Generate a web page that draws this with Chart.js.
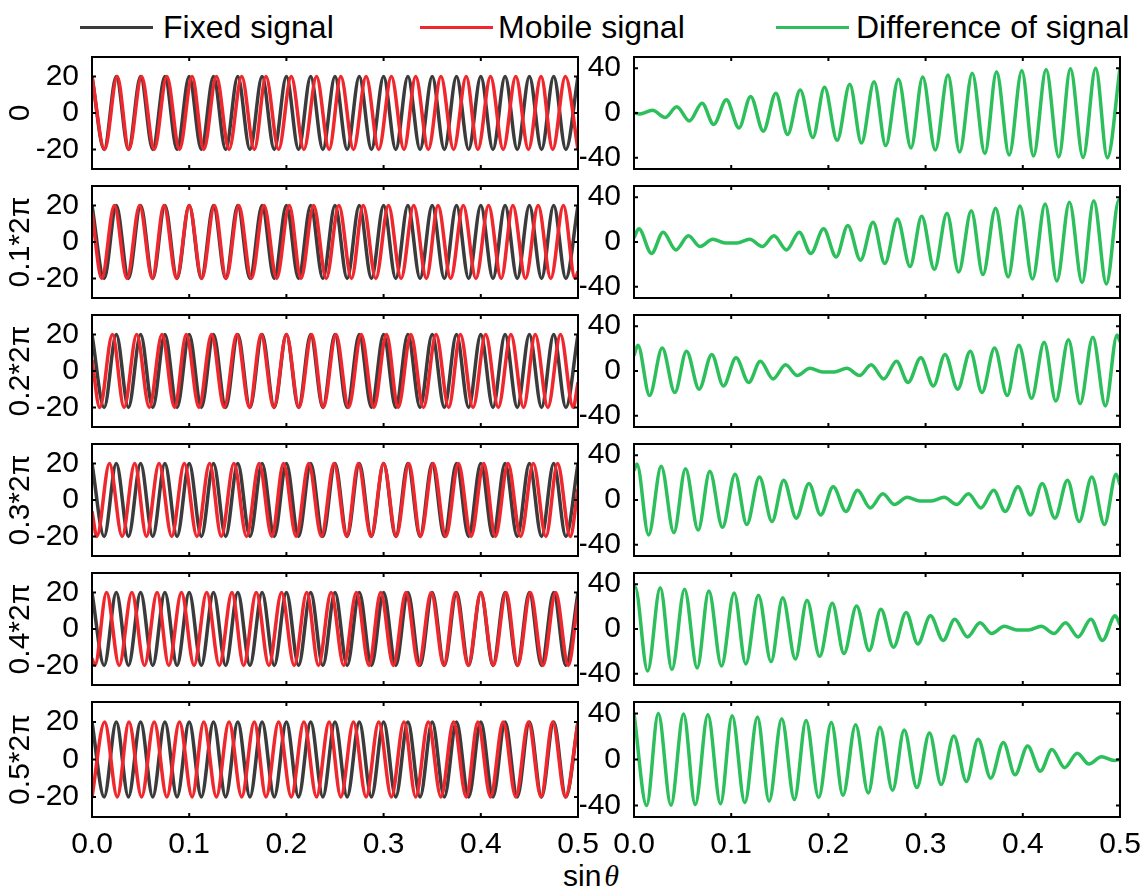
<!DOCTYPE html>
<html>
<head>
<meta charset="utf-8">
<script src="https://cdn.jsdelivr.net/npm/chart.js@4.4.1/dist/chart.umd.min.js"></script>
<style>
  html, body { margin: 0; background: #fff; overflow: hidden; }
  #wrap { position: relative; width: 1148px; height: 896px; overflow: hidden;
          font-family: 'Liberation Sans', Arial, sans-serif; color: #000; }
  canvas { position: absolute; }
  .swatch { position: absolute; top: 26px; width: 73px; height: 3px; }
  .key { position: absolute; top: 8px; line-height: 38px; font-size: 32px; white-space: nowrap; }
  .xtitle { position: absolute; left: 563px; top: 859px; line-height: 34px; font-size: 30px; white-space: nowrap; }
  .xtitle i { font-family: 'Liberation Serif', serif; margin-left: 3px; }
</style>
</head>
<body>
<div id="wrap">
  <div class="swatch" id="swFixed" style="left:80px"></div>
  <div class="key" style="left:163px">Fixed signal</div>
  <div class="swatch" id="swMobile" style="left:420px"></div>
  <div class="key" style="left:498px">Mobile signal</div>
  <div class="swatch" id="swDiff" style="left:776px"></div>
  <div class="key" style="left:856px">Difference of signal</div>
  <div class="xtitle">sin<i>θ</i></div>
</div>
<script>
// axis ticks and row labels
const xTicks = [0, 0.1, 0.2, 0.3, 0.4, 0.5];
const leftYTicks = [-20, 0, 20];
const rightYTicks = [-40, 0, 40];
const phaseLabels = ['0', '0.1*2π', '0.2*2π', '0.3*2π', '0.4*2π', '0.5*2π'];

// fixed signal, same in every row (peaks and troughs)
const fixedX = [0, 0.0125, 0.025, 0.0375, 0.05, 0.0625, 0.075, 0.0875, 0.1, 0.1125, 0.125, 0.1375, 0.15, 0.1625,
  0.175, 0.1875, 0.2, 0.2125, 0.225, 0.2375, 0.25, 0.2625, 0.275, 0.2875, 0.3, 0.3125, 0.325, 0.3375, 0.35,
  0.3625, 0.375, 0.3875, 0.4, 0.4125, 0.425, 0.4375, 0.45, 0.4625, 0.475, 0.4875, 0.5];
const fixedY = [20,-20,20,-20,20,-20,20,-20,20,-20,20,-20,20,-20,20,-20,20,-20,20,-20,20,-20,20,-20,20,-20,20,-20,
  20,-20,20,-20,20,-20,20,-20,20,-20,20,-20,20];

// mobile signal, one list per row
const mobileX = [
  [0, .013, .026, .038, .051, .064, .077, .090, .103, .115, .128, .141, .154, .167, .179, .192, .205, .218, .231, .244,
   .256, .269, .282, .295, .308, .321, .333, .346, .359, .372, .385, .397, .410, .423, .436, .449, .462, .474, .487, .5],
  [0, .010, .023, .036, .049, .062, .074, .087, .100, .113, .126, .138, .151, .164, .177, .190, .203, .215, .228, .241,
   .254, .267, .279, .292, .305, .318, .331, .344, .356, .369, .382, .395, .408, .421, .433, .446, .459, .472, .485, .497, .5],
  [0, .008, .021, .033, .046, .059, .072, .085, .097, .110, .123, .136, .149, .162, .174, .187, .200, .213, .226, .238,
   .251, .264, .277, .290, .303, .315, .328, .341, .354, .367, .379, .392, .405, .418, .431, .444, .456, .469, .482, .495, .5],
  [0, .005, .018, .031, .044, .056, .069, .082, .095, .108, .121, .133, .146, .159, .172, .185, .197, .210, .223, .236,
   .249, .262, .274, .287, .300, .313, .326, .338, .351, .364, .377, .390, .403, .415, .428, .441, .454, .467, .479, .492, .5],
  [0, .003, .015, .028, .041, .054, .067, .079, .092, .105, .118, .131, .144, .156, .169, .182, .195, .208, .221, .233,
   .246, .259, .272, .285, .297, .310, .323, .336, .349, .362, .374, .387, .400, .413, .426, .438, .451, .464, .477, .490, .5],
  [0, .013, .026, .038, .051, .064, .077, .090, .103, .115, .128, .141, .154, .167, .179, .192, .205, .218, .231, .244,
   .256, .269, .282, .295, .308, .321, .333, .346, .359, .372, .385, .397, .410, .423, .436, .449, .462, .474, .487, .5]
];
const mobileY = [
  [20,-20,20,-20,20,-20,20,-20,20,-20,20,-20,20,-20,20,-20,20,-20,20,-20,20,-20,20,-20,20,-20,20,-20,20,-20,20,-20,20,-20,20,-20,20,-20,20,-20],
  [16.2,-20,20,-20,20,-20,20,-20,20,-20,20,-20,20,-20,20,-20,20,-20,20,-20,20,-20,20,-20,20,-20,20,-20,20,-20,20,-20,20,-20,20,-20,20,-20,20,-20,-16.2],
  [6.2,-20,20,-20,20,-20,20,-20,20,-20,20,-20,20,-20,20,-20,20,-20,20,-20,20,-20,20,-20,20,-20,20,-20,20,-20,20,-20,20,-20,20,-20,20,-20,20,-20,-6.2],
  [-6.2,-20,20,-20,20,-20,20,-20,20,-20,20,-20,20,-20,20,-20,20,-20,20,-20,20,-20,20,-20,20,-20,20,-20,20,-20,20,-20,20,-20,20,-20,20,-20,20,-20,6.2],
  [-16.2,-20,20,-20,20,-20,20,-20,20,-20,20,-20,20,-20,20,-20,20,-20,20,-20,20,-20,20,-20,20,-20,20,-20,20,-20,20,-20,20,-20,20,-20,20,-20,20,-20,16.2],
  [-20,20,-20,20,-20,20,-20,20,-20,20,-20,20,-20,20,-20,20,-20,20,-20,20,-20,20,-20,20,-20,20,-20,20,-20,20,-20,20,-20,20,-20,20,-20,20,-20,20]
];

// difference of signal, one list per row
const diffX = [
  [0, .006, .019, .032, .044, .057, .070, .082, .095, .108, .120, .133, .146, .158, .171, .184, .196, .209, .222, .234,
   .247, .259, .272, .285, .297, .310, .323, .335, .348, .361, .373, .386, .399, .411, .424, .437, .449, .462, .475, .487, .5],
  [0, .005, .018, .030, .043, .056, .068, .081, .094, .106, .119, .132, .144, .157, .170, .182, .195, .208, .220, .233,
   .246, .258, .271, .284, .296, .309, .322, .334, .347, .359, .372, .385, .397, .410, .423, .435, .448, .461, .473, .486, .499, .5],
  [0, .004, .016, .029, .042, .054, .067, .080, .092, .105, .118, .130, .143, .156, .168, .181, .194, .206, .219, .232,
   .244, .257, .270, .282, .295, .308, .320, .333, .346, .358, .371, .384, .396, .409, .422, .434, .447, .459, .472, .485, .497, .5],
  [0, .003, .015, .028, .041, .053, .066, .078, .091, .104, .116, .129, .142, .154, .167, .180, .192, .205, .218, .230,
   .243, .256, .268, .281, .294, .306, .319, .332, .344, .357, .370, .382, .395, .408, .420, .433, .446, .458, .471, .484, .496, .5],
  [0, .001, .014, .027, .039, .052, .065, .077, .090, .103, .115, .128, .141, .153, .166, .178, .191, .204, .216, .229,
   .242, .254, .267, .280, .292, .305, .318, .330, .343, .356, .368, .381, .394, .406, .419, .432, .444, .457, .470, .482, .495, .5],
  [0, .013, .025, .038, .051, .063, .076, .089, .101, .114, .127, .139, .152, .165, .177, .190, .203, .215, .228, .241,
   .253, .266, .278, .291, .304, .316, .329, .342, .354, .367, .380, .392, .405, .418, .430, .443, .456, .468, .481, .494, .5]
];
const diffY = [
  [0, -0.8, 2.4, -4.0, 5.5, -7.1, 8.7, -10.2, 11.8, -13.3, 14.8, -16.2, 17.7, -19.1, 20.5, -21.8, 23.1, -24.4, 25.6, -26.8,
   28.0, -29.1, 30.2, -31.2, 32.2, -33.1, 34.0, -34.8, 35.5, -36.2, 36.9, -37.5, 38.0, -38.5, 38.9, -39.2, 39.5, -39.7, 39.9, -40.0, 40.0],
  [3.8, 11.8, -10.2, 8.7, -7.1, 5.5, -4.0, 2.4, -0.8, -0.8, 2.4, -4.0, 5.5, -7.1, 8.7, -10.2, 11.8, -13.3, 14.8, -16.2,
   17.7, -19.1, 20.5, -21.8, 23.1, -24.4, 25.6, -26.8, 28.0, -29.1, 30.2, -31.2, 32.2, -33.1, 34.0, -34.8, 35.5, -36.2, 36.9, -37.5, 38.0, 36.2],
  [13.8, 23.1, -21.8, 20.5, -19.1, 17.7, -16.2, 14.8, -13.3, 11.8, -10.2, 8.7, -7.1, 5.5, -4.0, 2.4, -0.8, -0.8, 2.4, -4.0,
   5.5, -7.1, 8.7, -10.2, 11.8, -13.3, 14.8, -16.2, 17.7, -19.1, 20.5, -21.8, 23.1, -24.4, 25.6, -26.8, 28.0, -29.1, 30.2, -31.2, 32.2, 26.2],
  [26.2, 32.2, -31.2, 30.2, -29.1, 28.0, -26.8, 25.6, -24.4, 23.1, -21.8, 20.5, -19.1, 17.7, -16.2, 14.8, -13.3, 11.8, -10.2, 8.7,
   -7.1, 5.5, -4.0, 2.4, -0.8, -0.8, 2.4, -4.0, 5.5, -7.1, 8.7, -10.2, 11.8, -13.3, 14.8, -16.2, 17.7, -19.1, 20.5, -21.8, 23.1, 13.8],
  [36.2, 38.0, -37.5, 36.9, -36.2, 35.5, -34.8, 34.0, -33.1, 32.2, -31.2, 30.2, -29.1, 28.0, -26.8, 25.6, -24.4, 23.1, -21.8, 20.5,
   -19.1, 17.7, -16.2, 14.8, -13.3, 11.8, -10.2, 8.7, -7.1, 5.5, -4.0, 2.4, -0.8, -0.8, 2.4, -4.0, 5.5, -7.1, 8.7, -10.2, 11.8, 3.8],
  [40.0, -40.0, 39.9, -39.7, 39.5, -39.2, 38.9, -38.5, 38.0, -37.5, 36.9, -36.2, 35.5, -34.8, 34.0, -33.1, 32.2, -31.2, 30.2, -29.1,
   28.0, -26.8, 25.6, -24.4, 23.1, -21.8, 20.5, -19.1, 17.7, -16.2, 14.8, -13.3, 11.8, -10.2, 8.7, -7.1, 5.5, -4.0, 2.4, -0.8, 0]
];

const colFixed = '#3b3b3b';
const colMobile = '#f0272c';
const colDiff = '#2dbf5c';

document.getElementById('swFixed').style.background = colFixed;
document.getElementById('swMobile').style.background = colMobile;
document.getElementById('swDiff').style.background = colDiff;

Chart.defaults.font.family = "'Liberation Sans', Arial, sans-serif";
Chart.defaults.color = '#000';

// layout of the panels
const plotTops = [54, 183, 312, 441, 570, 699];
const plotH = 118, plotW = 486;

// box round each panel with short ticks pointing inwards
const framePlugin = {
  id: 'frame',
  afterDatasetsDraw(chart) {
    const { ctx, chartArea: a, scales } = chart;
    ctx.save();
    ctx.strokeStyle = '#000';
    ctx.lineWidth = 2;
    ctx.strokeRect(a.left, a.top, a.width, a.height);
    ctx.beginPath();
    scales.x.ticks.forEach(t => {
      const px = scales.x.getPixelForValue(t.value);
      ctx.moveTo(px, a.top); ctx.lineTo(px, a.top + 4);
      ctx.moveTo(px, a.bottom); ctx.lineTo(px, a.bottom - 4);
    });
    scales.y.ticks.forEach(t => {
      const py = scales.y.getPixelForValue(t.value);
      ctx.moveTo(a.left, py); ctx.lineTo(a.left + 4, py);
      ctx.moveTo(a.right, py); ctx.lineTo(a.right - 4, py);
    });
    ctx.stroke();
    ctx.restore();
  }
};

function line(xs, ys, color) {
  return {
    data: xs.map((x, i) => ({ x: x, y: ys[i] })),
    borderColor: color,
    borderWidth: 3.5,
    pointRadius: 0,
    cubicInterpolationMode: 'monotone',
    borderJoinStyle: 'round'
  };
}

function panel(row, col) {
  const wrap = document.getElementById('wrap');
  const last = row === phaseLabels.length - 1;
  const left = col === 0;
  const axisW = left ? 92 : 54;
  const padTop = 20, padBottom = last ? 0 : 20;
  const padRight = left ? 30 : 28;
  const xAxisH = last ? 52 : 0;
  const cv = document.createElement('canvas');
  cv.width = axisW + plotW + padRight;
  cv.height = padTop + plotH + xAxisH + padBottom;
  cv.style.left = (left ? 0 : 580) + 'px';
  cv.style.top = (plotTops[row] - padTop) + 'px';
  wrap.appendChild(cv);

  const datasets = left
    ? [line(mobileX[row], mobileY[row], colMobile), line(fixedX, fixedY, colFixed)]
    : [line(diffX[row], diffY[row], colDiff)];
  const yLim = left ? 30.7 : 50;
  const yTicks = left ? leftYTicks : rightYTicks;

  new Chart(cv, {
    type: 'line',
    data: { datasets: datasets },
    options: {
      responsive: false,
      animation: false,
      events: [],
      layout: { padding: { top: padTop, bottom: padBottom, left: 0, right: padRight } },
      plugins: { legend: { display: false }, tooltip: { enabled: false } },
      scales: {
        x: {
          type: 'linear', min: 0, max: 0.5,
          grid: { display: false }, border: { display: false },
          afterBuildTicks: s => { s.ticks = xTicks.map(v => ({ value: v })); },
          afterFit: s => { s.height = xAxisH; },
          ticks: {
            display: last, autoSkip: false, maxRotation: 0, padding: 2,
            font: { size: 30 }, callback: v => v.toFixed(1)
          }
        },
        y: {
          min: -yLim, max: yLim,
          grid: { display: false }, border: { display: false },
          afterBuildTicks: s => { s.ticks = yTicks.map(v => ({ value: v })); },
          afterFit: s => { s.width = axisW; },
          ticks: { padding: 5, font: { size: 30 } },
          title: {
            display: left, text: phaseLabels[row],
            font: { size: 30 }, padding: { top: 3, bottom: 0 }
          }
        }
      }
    },
    plugins: [framePlugin]
  });
}

for (let r = 0; r < phaseLabels.length; r++) {
  panel(r, 0);
  panel(r, 1);
}
</script>
</body>
</html>
